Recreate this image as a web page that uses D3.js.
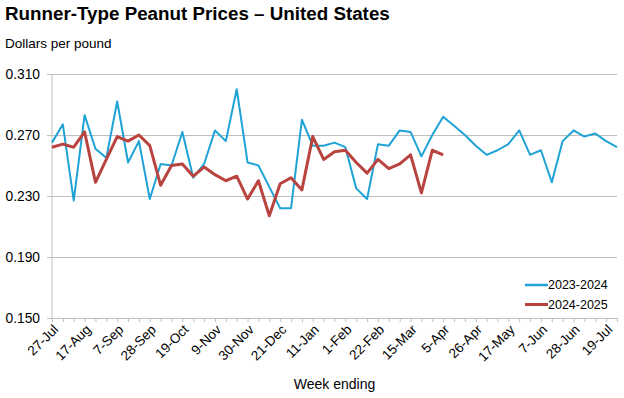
<!DOCTYPE html>
<html>
<head>
<meta charset="utf-8">
<script src="https://cdn.jsdelivr.net/npm/d3@7"></script>
<style>
  html, body { margin: 0; padding: 0; background: #fff; }
  svg { display: block; font-family: "Liberation Sans", Arial, sans-serif; }
</style>
</head>
<body>
<svg id="chart"></svg>
<script>
// Week-ending categories (Saturday of each week)
const weeks = [
  '27-Jul', '3-Aug', '10-Aug', '17-Aug', '24-Aug', '31-Aug', '7-Sep', '14-Sep', '21-Sep', '28-Sep',
  '5-Oct', '12-Oct', '19-Oct', '26-Oct', '2-Nov', '9-Nov', '16-Nov', '23-Nov', '30-Nov', '7-Dec',
  '14-Dec', '21-Dec', '28-Dec', '4-Jan', '11-Jan', '18-Jan', '25-Jan', '1-Feb', '8-Feb', '15-Feb',
  '22-Feb', '1-Mar', '8-Mar', '15-Mar', '22-Mar', '29-Mar', '5-Apr', '12-Apr', '19-Apr', '26-Apr',
  '3-May', '10-May', '17-May', '24-May', '31-May', '7-Jun', '14-Jun', '21-Jun', '28-Jun', '5-Jul',
  '12-Jul', '19-Jul', '26-Jul'
];

// Labelled weeks (every third one)
const tickLabels = [
  '27-Jul', '17-Aug', '7-Sep', '28-Sep', '19-Oct', '9-Nov', '30-Nov', '21-Dec', '11-Jan',
  '1-Feb', '22-Feb', '15-Mar', '5-Apr', '26-Apr', '17-May', '7-Jun', '28-Jun', '19-Jul'
];

const yTicks = [0.150, 0.190, 0.230, 0.270, 0.310];

// Dollars per pound
const prices2324 = [
  0.265, 0.277, 0.227, 0.283, 0.261, 0.255, 0.292, 0.252, 0.266, 0.228,
  0.251, 0.250, 0.272, 0.242, 0.251, 0.273, 0.266, 0.300, 0.252, 0.250,
  0.236, 0.222, 0.222, 0.280, 0.263, 0.263, 0.265, 0.262, 0.235, 0.228,
  0.264, 0.263, 0.273, 0.272, 0.256, 0.270, 0.282, 0.276, 0.270, 0.263,
  0.257, 0.260, 0.264, 0.273, 0.257, 0.260, 0.239, 0.266, 0.273, 0.269,
  0.271, 0.266, 0.262
];

const prices2425 = [
  0.262, 0.264, 0.262, 0.272, 0.239, 0.254, 0.269, 0.266, 0.270, 0.263,
  0.237, 0.250, 0.251, 0.243, 0.249, 0.244, 0.240, 0.243, 0.228, 0.240,
  0.217, 0.238, 0.242, 0.234, 0.269, 0.254, 0.259, 0.260, 0.252, 0.245,
  0.254, 0.248, 0.251, 0.257, 0.232, 0.260, 0.257
];

const seriesNames  = ['2023-2024', '2024-2025'];
const seriesColors = ['#1fa3d6', '#b8433f'];

// ── Layout ─────────────────────────────────────────
const W = 624, H = 398;
const plot = { left: 52, right: 617, top: 74, bottom: 318 };
const gridColor = '#bfbfbf';
const FONT = '"Liberation Sans", Arial, sans-serif';

const svg = d3.select('#chart').attr('width', W).attr('height', H);

const x = d3.scalePoint().domain(weeks).range([plot.left, plot.right]);
const y = d3.scaleLinear().domain([0.15, 0.31]).range([plot.bottom, plot.top]);

// Title + unit label
svg.append('text').attr('x', 5).attr('y', 20)
  .attr('font-size', '18.8px').attr('font-weight', 'bold').attr('fill', '#000')
  .text('Runner-Type Peanut Prices \u2013 United States');
svg.append('text').attr('x', 5).attr('y', 48)
  .attr('font-size', '13.5px').attr('fill', '#000')
  .text('Dollars per pound');

// Horizontal gridlines + y axis labels
const yAxis = d3.axisLeft(y).tickValues(yTicks).tickFormat(d3.format('.3f'))
  .tickSize(plot.right - plot.left + 5).tickPadding(7);
svg.append('g')
  .attr('transform', `translate(${plot.right},0)`)
  .call(yAxis)
  .call(g => g.select('.domain').remove())
  .call(g => g.selectAll('line').attr('stroke', gridColor))
  .call(g => g.selectAll('text').attr('font-size', '13.8px').attr('fill', '#000')
    .attr('font-family', FONT));

// Vertical axis line
svg.append('line')
  .attr('x1', plot.left).attr('x2', plot.left)
  .attr('y1', plot.top).attr('y2', plot.bottom)
  .attr('stroke', gridColor);

// X axis: a tick at every week, label every third week
const xAxis = d3.axisBottom(x).tickSize(4)
  .tickFormat(d => tickLabels.includes(d) ? d : '');
svg.append('g')
  .attr('transform', `translate(0,${plot.bottom})`)
  .call(xAxis)
  .call(g => g.select('.domain').attr('stroke', gridColor))
  .call(g => g.selectAll('line').attr('stroke', gridColor))
  .call(g => g.selectAll('text')
    .attr('font-size', '13.5px').attr('fill', '#000')
    .attr('font-family', FONT)
    .attr('text-anchor', 'end')
    .attr('dy', '0.55em').attr('dx', '-0.3em').attr('y', 6)
    .attr('transform', 'rotate(-45)'));

// Axis title
svg.append('text')
  .attr('x', (plot.left + plot.right) / 2).attr('y', 389)
  .attr('text-anchor', 'middle').attr('font-size', '14px').attr('fill', '#000')
  .text('Week ending');

// Lines
const line = d3.line()
  .x((d, i) => x(weeks[i]))
  .y(d => y(d));

svg.append('path').datum(prices2324)
  .attr('d', line).attr('fill', 'none')
  .attr('stroke', seriesColors[0]).attr('stroke-width', 2)
  .attr('stroke-linejoin', 'round');

svg.append('path').datum(prices2425)
  .attr('d', line).attr('fill', 'none')
  .attr('stroke', seriesColors[1]).attr('stroke-width', 3)
  .attr('stroke-linejoin', 'round');

// Legend
const legend = svg.append('g').attr('transform', 'translate(525,285)');
seriesNames.forEach((name, i) => {
  const row = legend.append('g').attr('transform', `translate(0,${i * 19.5})`);
  row.append('line').attr('x1', 0).attr('x2', 23).attr('y1', 0).attr('y2', 0)
    .attr('stroke', seriesColors[i]).attr('stroke-width', i ? 3 : 2.5);
  row.append('text').attr('x', 23).attr('y', 0).attr('dy', '0.35em')
    .attr('font-size', '12.5px').attr('fill', '#000').text(name);
});
</script>
</body>
</html>
